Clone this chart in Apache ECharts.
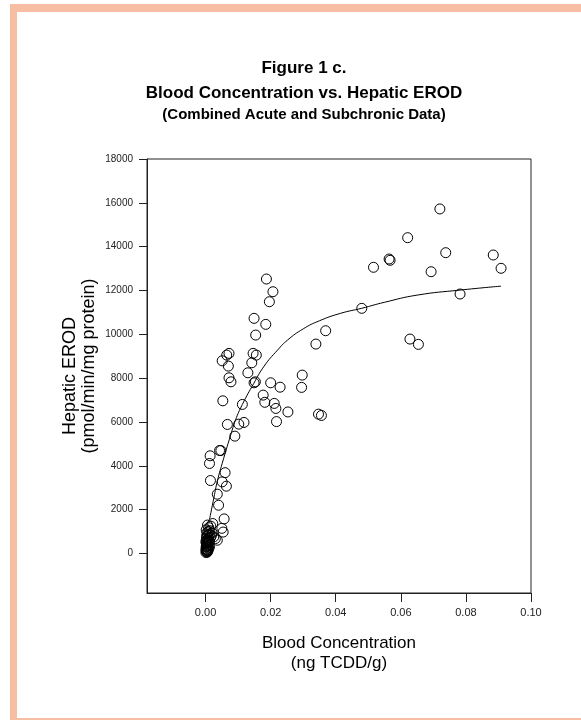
<!DOCTYPE html>
<html>
<head>
<meta charset="utf-8">
<script src="https://cdn.jsdelivr.net/npm/echarts@6/dist/echarts.min.js"></script>
<style>html,body{margin:0;padding:0;background:#fff}#c{width:581px;height:720px}</style>
</head>
<body>
<div id="c"></div>
<script>
// Scatter data: blood concentration (ng TCDD/g) and hepatic EROD (pmol/min/mg protein)
const bloodConc = [
  0.0002,0.0004,0.0001,0.0006,0.0003,0.0008,0.0005,0.0010,0.0002,0.0007,
  0.0012,0.0004,0.0009,0.0015,0.0003,0.0006,0.0011,0.0018,0.0004,0.0008,
  0.0013,0.0002,0.0010,0.0016,0.0006,0.0020,0.0025,0.0030,
  0.0001,0.0003,0.0005,0.0007,0.0002,0.0006,0.0009,0.0001,0.0004,0.0008,0.0012,0.0003,
  0.0036,0.0022,0.0050,0.0054,0.0057,0.0040,0.0036,0.0064,0.0051,0.0015,
  0.0060,0.0012,0.0014,0.0043,0.0047,0.0090,0.0067,0.0102,0.0118,0.0053,
  0.0113,0.0072,0.0078,0.0070,0.0051,0.0065,0.0072,0.0130,0.0142,0.0146,
  0.0156,0.0149,0.0153,0.0154,0.0149,0.0185,0.0187,0.0207,0.0196,0.0200,
  0.0229,0.0177,0.0182,0.0211,0.0216,0.0253,0.0218,0.0297,0.0295,0.0347,
  0.0356,0.0339,0.0369,0.0480,0.0516,0.0564,0.0567,0.0621,0.0720,0.0738,
  0.0693,0.0884,0.0908,0.0782,0.0628,0.0654
];
const erod = [
  120,80,200,180,300,260,400,380,480,520,
  560,620,680,720,780,840,880,820,950,1000,
  1040,1080,1180,1250,1300,940,760,680,
  50,150,60,120,330,350,200,550,450,600,300,700,
  607,1370,1150,980,1580,2205,2708,3073,3270,3330,
  3690,4109,4460,4700,4700,5356,5890,5904,5981,6968,
  6803,8018,7835,8552,8794,9054,9132,8246,8703,9132,
  9054,7790,7835,9968,10730,10456,12524,11945,11488,7790,
  7590,7228,6900,6849,6620,6460,6020,8141,7580,6360,
  6300,9557,10165,11187,13059,13437,13378,14410,15722,13726,
  12858,13620,13013,11840,9785,9543
];
// Fitted curve
const curveX = [0.0012,0.0026,0.0036,0.0051,0.0077,0.0092,0.0113,0.0148,0.0180,0.0221,0.0252,0.0300,0.0350,0.0415,0.0480,0.0549,0.0650,0.0782,0.0908];
const curveY = [1550,2580,3300,4110,5400,6090,6800,7760,8550,9280,9740,10250,10620,10960,11190,11460,11790,12020,12200];
// Tick labels
const xTicks = [0, 0.02, 0.04, 0.06, 0.08, 0.10];
const yTicks = [0, 2000, 4000, 6000, 8000, 10000, 12000, 14000, 16000, 18000];

const FONT = 'Liberation Sans, Arial, Helvetica, sans-serif';
const scatterData = bloodConc.map((x, i) => [x, erod[i]]);
const curveData = curveX.map((x, i) => [x, curveY[i]]);

const chart = echarts.init(document.getElementById('c'), null, {renderer: 'canvas'});
chart.setOption({
  backgroundColor: '#ffffff',
  animation: false,
  title: {
    text: 'Figure 1 c.\nBlood Concentration vs. Hepatic EROD',
    subtext: '(Combined Acute and Subchronic Data)',
    left: 304, top: 56, textAlign: 'center', padding: 0, itemGap: 0,
    textStyle: {fontFamily: FONT, fontSize: 17, fontWeight: 'bold', lineHeight: 25, color: '#000'},
    subtextStyle: {fontFamily: FONT, fontSize: 15, fontWeight: 'bold', lineHeight: 18, color: '#000'}
  },
  graphic: [
    {type: 'rect', z: -10, silent: true, shape: {x: 10, y: 4, width: 580, height: 720}, style: {fill: '#f8bea4'}},
    {type: 'rect', z: -9, silent: true, shape: {x: 17, y: 12, width: 570, height: 706}, style: {fill: '#ffffff'}},
    {type: 'text', z: 10, x: 70, y: 376, rotation: Math.PI / 2,
      style: {text: 'Hepatic EROD', font: '18px ' + FONT, fill: '#000', align: 'center', verticalAlign: 'middle'}},
    {type: 'text', z: 10, x: 89, y: 366, rotation: Math.PI / 2,
      style: {text: '(pmol/min/mg protein)', font: '18px ' + FONT, fill: '#000', align: 'center', verticalAlign: 'middle'}}
  ],
  grid: {left: 147, right: 50, top: 159, bottom: 127, show: true, borderColor: '#222', borderWidth: 1, backgroundColor: 'transparent'},
  xAxis: {
    type: 'value', min: -0.018, max: 0.10,
    name: 'Blood Concentration\n(ng TCDD/g)', nameLocation: 'middle', nameGap: 41,
    nameTextStyle: {fontFamily: FONT, fontSize: 17, lineHeight: 19.5, color: '#000'},
    axisLine: {show: true, onZero: false, lineStyle: {color: '#222', width: 1}},
    axisTick: {show: true, inside: false, length: 9, customValues: xTicks, lineStyle: {color: '#222'}},
    axisLabel: {customValues: xTicks, margin: 14, fontFamily: FONT, fontSize: 11, color: '#222',
      formatter: v => v.toFixed(2)},
    splitLine: {show: false}
  },
  yAxis: {
    type: 'value', min: -1800, max: 18000,
    axisLine: {show: true, onZero: false, lineStyle: {color: '#222', width: 1}},
    axisTick: {show: true, inside: false, length: 8, customValues: yTicks, lineStyle: {color: '#222'}},
    axisLabel: {customValues: yTicks, margin: 14, fontFamily: FONT, fontSize: 10, color: '#222',
      formatter: v => String(v)},
    splitLine: {show: false}
  },
  series: [
    {
      type: 'scatter', data: scatterData, symbol: 'circle', symbolSize: 10,
      itemStyle: {color: 'rgba(0,0,0,0)', borderColor: '#000', borderWidth: 1, opacity: 1},
      emphasis: {disabled: true}
    },
    {
      type: 'line', data: curveData, smooth: 0.5, showSymbol: false, symbol: 'none',
      lineStyle: {color: '#000', width: 1}, z: 3
    }
  ]
});
</script>
</body>
</html>
